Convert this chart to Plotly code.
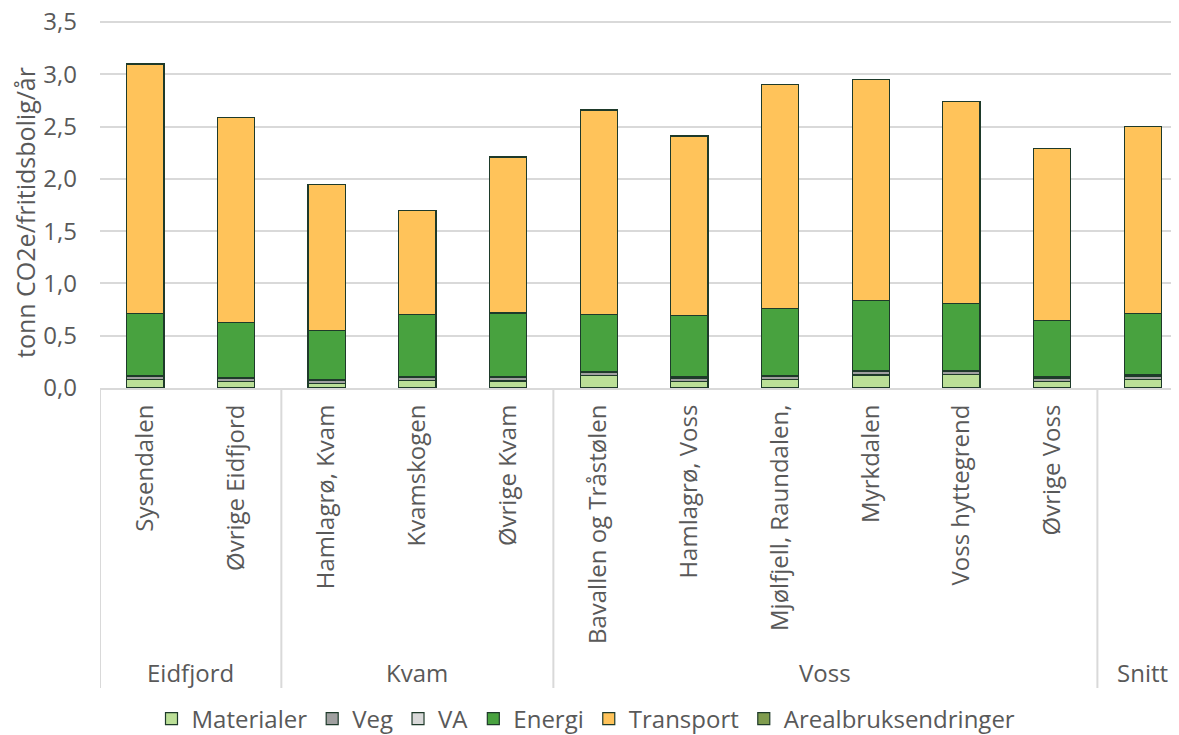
import plotly.graph_objects as go

categories = ["Sysendalen", "Øvrige Eidfjord", "Hamlagrø, Kvam", "Kvamskogen", "Øvrige Kvam",
              "Bavallen og Tråstølen", "Hamlagrø, Voss", "Mjølfjell, Raundalen,", "Myrkdalen",
              "Voss hyttegrend", "Øvrige Voss", "Snitt"]
tick_labels = ["Sysendalen", "Øvrige Eidfjord", "Hamlagrø, Kvam", "Kvamskogen", "Øvrige Kvam",
               "Bavallen og Tråstølen", "Hamlagrø, Voss", "Mjølfjell, Raundalen,", "Myrkdalen",
               "Voss hyttegrend", "Øvrige Voss", ""]
groups = ["Eidfjord", "Kvam", "Voss", "Snitt"]
group_sizes = [2, 3, 6, 1]

materialer = [0.08, 0.06, 0.04, 0.07, 0.067, 0.12, 0.065, 0.08, 0.125, 0.13, 0.065, 0.085]
veg = [0.03, 0.03, 0.03, 0.03, 0.035, 0.03, 0.03, 0.03, 0.03, 0.03, 0.03, 0.03]
va = [0.01, 0.01, 0.01, 0.01, 0.01, 0.01, 0.01, 0.01, 0.01, 0.01, 0.01, 0.01]
energi = [0.59, 0.53, 0.47, 0.59, 0.605, 0.54, 0.585, 0.64, 0.675, 0.64, 0.54, 0.585]
transport = [2.39, 1.96, 1.40, 1.00, 1.493, 1.96, 1.72, 2.14, 2.11, 1.93, 1.645, 1.79]
arealbruk = [0] * 12

series = [
    ("Materialer", materialer, "#BBDF97"),
    ("Veg", veg, "#A0A0A0"),
    ("VA", va, "#D9D9D9"),
    ("Energi", energi, "#48A23F"),
    ("Transport", transport, "#FFC35A"),
    ("Arealbruksendringer", arealbruk, "#7F9C4E"),
]

FONT = "Open Sans"
GRAY = "#595959"
OFF = 8  # page body margin of the browser
W, H = 1179 - OFF, 735 - OFF
Y_MAX = 3.52

fig = go.Figure()
for name, vals, col in series:
    fig.add_trace(go.Bar(
        x=categories, y=vals, name=name,
        marker=dict(color=col, line=dict(color="#1E3A2A", width=1.2)),
        width=0.41,
    ))

# reference pixels: value 0 at y=388, value 3.5 at y=22
scale = (388 - 22) / 3.5
PLOT_BOTTOM = 388 - OFF
PLOT_TOP = round(388 - Y_MAX * scale) - OFF
PLOT_LEFT = 100 - OFF
plot_h = PLOT_BOTTOM - PLOT_TOP
plot_w = W - PLOT_LEFT


def py(y_ref):
    return (PLOT_BOTTOM - (y_ref - OFF)) / plot_h


def px(x_ref):
    return ((x_ref - OFF) - PLOT_LEFT) / plot_w


fig.update_layout(
    barmode="stack",
    width=W, height=H,
    margin=dict(l=PLOT_LEFT, r=0, t=PLOT_TOP, b=H - PLOT_BOTTOM, autoexpand=False),
    plot_bgcolor="white", paper_bgcolor="white",
    separators=", ",
    font=dict(family=FONT, size=24, color=GRAY),
    showlegend=True,
    legend=dict(orientation="h", x=px(586), xanchor="center",
                y=py(719), yanchor="middle",
                font=dict(size=24, color=GRAY), traceorder="normal",
                itemwidth=30, tracegroupgap=0),
)
fig.update_yaxes(
    range=[0, Y_MAX], tickvals=[0, 0.5, 1, 1.5, 2, 2.5, 3, 3.5], tickformat=".1f",
    showgrid=True, gridcolor="#D9D9D9", gridwidth=1.5,
    zeroline=False, showline=False, ticks="", automargin=False,
    tickfont=dict(size=24, color=GRAY), ticklabelstandoff=22,
    ticklabeloverflow="allow",
)
fig.update_xaxes(
    type="category", range=[-0.5, 11.4],
    tickvals=categories, ticktext=tick_labels,
    tickangle=-90, tickfont=dict(size=24, color=GRAY),
    showline=True, linecolor="#D9D9D9", linewidth=2,
    showgrid=False, ticks="", ticklabelstandoff=5, automargin=False,
)

# y axis title as annotation (placed like the reference)
fig.add_annotation(text="tonn CO2e/fritidsbolig/år", xref="paper", yref="paper",
                   x=px(25), y=py(213),
                   textangle=-90, showarrow=False, xanchor="center", yanchor="middle",
                   font=dict(size=25, color=GRAY))

# group dividers and labels
y_bottom = py(688)
y_label = py(672)
pos = -0.5
fig.add_shape(type="line", xref="x", yref="paper", x0=pos, x1=pos, y0=0, y1=y_bottom,
              line=dict(color="#D9D9D9", width=2))
for g, n in zip(groups, group_sizes):
    center = pos + n / 2
    fig.add_annotation(x=center, y=y_label, xref="x", yref="paper", text=g, showarrow=False,
                       font=dict(size=24, color=GRAY), yanchor="middle")
    pos += n
    if pos < 11.5:
        fig.add_shape(type="line", xref="x", yref="paper", x0=pos, x1=pos, y0=0, y1=y_bottom,
                      line=dict(color="#D9D9D9", width=2))

fig.write_html("out.html")
